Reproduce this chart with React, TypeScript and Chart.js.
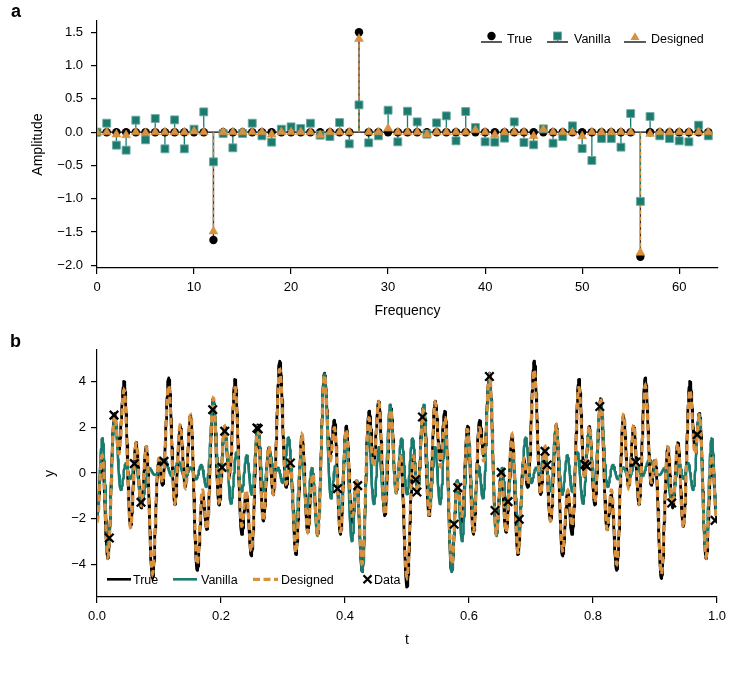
import React, { useEffect, useRef } from 'react';
import { Chart, registerables } from 'chart.js';

Chart.register(...registerables);

const FONT_FAMILY = '"Liberation Sans", Arial, Helvetica, sans-serif';
const INK = '#000000';
const TEAL = '#1b7b6f';
const TEAL_EDGE = 'rgba(110,170,160,0.9)';
const ORANGE = '#d8913f';

// ---- spectra (frequency bins 0..63) ----
const frequencies = Array.from({ length: 64 }, (_, k) => k);

const trueSpectrum = [
  0, 0, 0, 0, 0, 0, 0, 0, 0, 0,
  0, 0, -1.62, 0, 0, 0, 0, 0, 0, 0,
  0, 0, 0, 0, 0, 0, 0, 1.5, 0, 0,
  0, 0, 0, 0, 0, 0, 0, 0, 0, 0,
  0, 0, 0, 0, 0, 0, 0, 0, 0, 0,
  0, 0, 0, 0, 0, 0, -1.87, 0, 0, 0,
  0, 0, 0, 0,
];

const vanillaSpectrum = [
  0, 0.135, -0.195, -0.27, 0.18, -0.115, 0.205, -0.25, 0.185, -0.25,
  0.045, 0.305, -0.445, -0.02, -0.235, -0.02, 0.135, -0.055, -0.15, 0.045,
  0.08, 0.055, 0.135, -0.045, -0.065, 0.145, -0.175, 0.41, -0.16, -0.055,
  0.33, -0.145, 0.315, 0.155, -0.03, 0.14, 0.245, -0.13, 0.31, 0.07,
  -0.145, -0.15, -0.09, 0.155, -0.155, -0.19, 0.05, -0.165, -0.065, 0.095,
  -0.245, -0.425, -0.095, -0.095, -0.225, 0.28, -1.04, 0.235, -0.055, -0.095,
  -0.13, -0.145, 0.105, -0.055,
];

const designedSpectrum = [
  0, 0, -0.035, -0.045, 0, -0.01, 0, 0, 0, 0,
  0.01, 0, -1.49, 0, 0, 0, 0, 0, -0.035, 0,
  0, 0, 0, -0.045, 0, 0, 0, 1.4, 0, 0,
  0.055, 0, 0, 0, -0.035, 0, 0, 0, 0, 0.03,
  0, -0.04, 0, 0, 0, -0.06, 0.04, 0, 0, 0,
  -0.06, 0, 0, 0, 0, 0, -1.81, -0.025, 0, 0,
  0, 0, 0, 0,
];

const amplitudeTicks = [-2, -1.5, -1, -0.5, 0, 0.5, 1, 1.5];
const frequencyTicks = [0, 10, 20, 30, 40, 50, 60];

// ---- time-domain samples ----
const sampleT = [
  0.0199, 0.0274, 0.0602, 0.071, 0.108, 0.1866, 0.2016, 0.206, 0.258, 0.26,
  0.312, 0.388, 0.4205, 0.514, 0.516, 0.525, 0.576, 0.582, 0.633, 0.642,
  0.652, 0.663, 0.681, 0.7226, 0.7258, 0.787, 0.79, 0.811, 0.869, 0.927,
  0.968, 0.997,
];
const sampleY = [
  -2.84, 2.53, 0.41, -1.28, 0.51, 2.77, 0.25, 1.83, 1.97, 1.93,
  0.44, -0.68, -0.55, -0.29, -0.83, 2.45, -2.24, -0.64, 4.22, -1.64,
  0.03, -1.25, -2.02, 0.95, 0.35, 0.38, 0.3, 2.91, 0.48, -1.31,
  1.68, -2.07,
];

const timeTicks = [0, 0.2, 0.4, 0.6, 0.8, 1.0];
const signalTicks = [-4, -2, 0, 2, 4];

// Each time-domain curve is the cosine series of its spectrum above.
const CURVE_STEPS = 2000;
const curveT = Array.from({ length: CURVE_STEPS + 1 }, (_, i) => i / CURVE_STEPS);
function cosineSeries(spectrum: number[]) {
  return curveT.map((t) => ({
    x: t,
    y: spectrum.reduce((s, a, k) => s + a * Math.cos(2 * Math.PI * frequencies[k] * t), 0),
  }));
}

function stemSegments(spectrum: number[]) {
  const pts: { x: number; y: number | null }[] = [];
  spectrum.forEach((v, k) => {
    if (v === 0) return;
    pts.push({ x: frequencies[k], y: 0 }, { x: frequencies[k], y: v }, { x: frequencies[k], y: null });
  });
  return pts;
}

const minus = (s: string) => s.replace('-', '\u2212');

// ---- small canvas drawing helpers for legend handles ----
function hLine(ctx: CanvasRenderingContext2D, x0: number, x1: number, y: number, color: string, width: number, dash: number[] = []) {
  ctx.save();
  ctx.strokeStyle = color;
  ctx.lineWidth = width;
  ctx.setLineDash(dash);
  ctx.beginPath();
  ctx.moveTo(x0, y);
  ctx.lineTo(x1, y);
  ctx.stroke();
  ctx.restore();
}
function vLine(ctx: CanvasRenderingContext2D, x: number, y0: number, y1: number, color: string, width: number) {
  ctx.save();
  ctx.strokeStyle = color;
  ctx.lineWidth = width;
  ctx.beginPath();
  ctx.moveTo(x, y0);
  ctx.lineTo(x, y1);
  ctx.stroke();
  ctx.restore();
}
function circleMark(ctx: CanvasRenderingContext2D, x: number, y: number, r: number, color: string) {
  ctx.save();
  ctx.fillStyle = color;
  ctx.beginPath();
  ctx.arc(x, y, r, 0, Math.PI * 2);
  ctx.fill();
  ctx.restore();
}
function squareMark(ctx: CanvasRenderingContext2D, x: number, y: number, side: number) {
  ctx.save();
  ctx.fillStyle = TEAL;
  ctx.strokeStyle = TEAL_EDGE;
  ctx.lineWidth = 1;
  ctx.fillRect(x - side / 2, y - side / 2, side, side);
  ctx.strokeRect(x - side / 2, y - side / 2, side, side);
  ctx.restore();
}
function triangleMark(ctx: CanvasRenderingContext2D, x: number, y: number, r: number) {
  ctx.save();
  ctx.fillStyle = ORANGE;
  ctx.beginPath();
  ctx.moveTo(x, y - r);
  ctx.lineTo(x + r * Math.sin((2 * Math.PI) / 3), y + r / 2);
  ctx.lineTo(x - r * Math.sin((2 * Math.PI) / 3), y + r / 2);
  ctx.closePath();
  ctx.fill();
  ctx.restore();
}
function crossMark(ctx: CanvasRenderingContext2D, x: number, y: number, h: number) {
  ctx.save();
  ctx.strokeStyle = INK;
  ctx.lineWidth = 2.3;
  ctx.beginPath();
  ctx.moveTo(x - h, y - h);
  ctx.lineTo(x + h, y + h);
  ctx.moveTo(x - h, y + h);
  ctx.lineTo(x + h, y - h);
  ctx.stroke();
  ctx.restore();
}

type LegendEntry = { label: string; textX: number; handle: (ctx: CanvasRenderingContext2D) => void };

function inlineLegend(id: string, entries: LegendEntry[], textBaseline: number) {
  return {
    id,
    afterDraw(chart: Chart) {
      const ctx = chart.ctx;
      ctx.save();
      entries.forEach((e) => {
        e.handle(ctx);
        ctx.fillStyle = INK;
        ctx.font = `12.5px ${FONT_FAMILY}`;
        ctx.textAlign = 'left';
        ctx.textBaseline = 'alphabetic';
        ctx.fillText(e.label, e.textX, textBaseline);
      });
      ctx.restore();
    },
  };
}

const tickFont = { family: FONT_FAMILY, size: 13 };
const titleFont = { family: FONT_FAMILY, size: 14 };

function axisCommon(ticksList: number[], fmt: (v: number) => string, pad: number) {
  return {
    type: 'linear' as const,
    afterBuildTicks: (scale: any) => {
      scale.ticks = ticksList.map((value) => ({ value }));
    },
    ticks: {
      font: tickFont,
      color: INK,
      padding: pad,
      maxRotation: 0,
      autoSkip: false,
      callback: (v: any) => fmt(Number(v)),
    },
    grid: { drawOnChartArea: false, drawTicks: true, tickLength: 6, color: INK, lineWidth: 1.2 },
    border: { display: true, color: INK, width: 1.2 },
  };
}

function SpectrumPanel() {
  const ref = useRef<HTMLCanvasElement | null>(null);
  useEffect(() => {
    if (!ref.current) return;
    const pts = (spec: number[]) => spec.map((v, k) => ({ x: frequencies[k], y: v }));
    const legendY = 42;
    const chart = new Chart(ref.current, {
      type: 'scatter',
      data: {
        datasets: [
          {
            label: 'Designed',
            data: pts(designedSpectrum),
            pointStyle: 'triangle',
            pointRadius: 5.2,
            backgroundColor: ORANGE,
            borderColor: ORANGE,
            borderWidth: 0.5,
            showLine: false,
            clip: 0,
            order: 0,
          },
          {
            label: 'Vanilla',
            data: pts(vanillaSpectrum),
            pointStyle: 'rect',
            pointRadius: 5.6,
            backgroundColor: TEAL,
            borderColor: TEAL_EDGE,
            borderWidth: 1,
            showLine: false,
            clip: 0,
            order: 1,
          },
          {
            label: 'True',
            data: pts(trueSpectrum),
            pointStyle: 'circle',
            pointRadius: 4.2,
            backgroundColor: INK,
            borderColor: INK,
            borderWidth: 0,
            showLine: false,
            clip: 0,
            order: 2,
          },
          {
            label: 'Designed stems',
            data: stemSegments(designedSpectrum),
            showLine: true,
            pointRadius: 0,
            borderColor: ORANGE,
            borderWidth: 1.4,
            borderDash: [4, 2.5],
            spanGaps: false,
            clip: 0,
            order: 3,
          },
          {
            label: 'Vanilla stems',
            data: stemSegments(vanillaSpectrum),
            showLine: true,
            pointRadius: 0,
            borderColor: TEAL,
            borderWidth: 1.3,
            spanGaps: false,
            clip: 0,
            order: 4,
          },
          {
            label: 'True stems',
            data: stemSegments(trueSpectrum),
            showLine: true,
            pointRadius: 0,
            borderColor: '#333333',
            borderWidth: 1.4,
            spanGaps: false,
            clip: 0,
            order: 5,
          },
          {
            label: 'Baseline',
            data: [
              { x: frequencies[0], y: 0 },
              { x: frequencies[frequencies.length - 1], y: 0 },
            ],
            showLine: true,
            pointRadius: 0,
            borderColor: INK,
            borderWidth: 1.3,
            clip: 0,
            order: 6,
          },
        ],
      },
      options: {
        animation: false,
        responsive: false,
        devicePixelRatio: 1,
        events: [],
        layout: { padding: { left: 0, top: 21, right: 14, bottom: 0 } },
        plugins: { legend: { display: false }, tooltip: { enabled: false } },
        scales: {
          x: {
            ...axisCommon(frequencyTicks, (v) => String(v), 6),
            min: 0,
            max: 64,
            title: { display: true, text: 'Frequency', font: titleFont, color: INK, padding: { top: 0, bottom: 10.5 } },
            afterFit: (s: any) => {
              s.height = 62;
            },
          },
          y: {
            ...axisCommon(amplitudeTicks, (v) => minus(v.toFixed(1)), 8),
            min: -2.04,
            max: 1.67,
            title: { display: true, text: 'Amplitude', font: titleFont, color: INK, padding: { top: 29.6, bottom: 0 } },
            afterFit: (s: any) => {
              s.width = 97;
            },
          },
        },
      },
      plugins: [
        inlineLegend(
          'spectrumLegend',
          [
            {
              label: 'True',
              textX: 507,
              handle: (ctx) => {
                hLine(ctx, 481, 502, legendY, INK, 1.3);
                circleMark(ctx, 491.5, 36, 4.2, INK);
              },
            },
            {
              label: 'Vanilla',
              textX: 574,
              handle: (ctx) => {
                hLine(ctx, 547, 568, legendY, INK, 1.3);
                vLine(ctx, 557.5, legendY, 36, TEAL, 1.3);
                squareMark(ctx, 557.5, 36, 8);
              },
            },
            {
              label: 'Designed',
              textX: 651,
              handle: (ctx) => {
                hLine(ctx, 624, 646, legendY, INK, 1.3);
                triangleMark(ctx, 635, 37.5, 5.2);
              },
            },
          ],
          42.7
        ),
      ],
    } as any);
    return () => chart.destroy();
  }, []);
  return <canvas ref={ref} width={732} height={330} style={{ position: 'absolute', left: 0, top: 0, display: 'block' }} />;
}

function SignalPanel() {
  const ref = useRef<HTMLCanvasElement | null>(null);
  useEffect(() => {
    if (!ref.current) return;
    const legendLineY = 249.3;
    const chart = new Chart(ref.current, {
      type: 'scatter',
      data: {
        datasets: [
          {
            label: 'Data',
            data: sampleT.map((t, i) => ({ x: t, y: sampleY[i] })),
            pointStyle: 'crossRot',
            pointRadius: 6,
            borderColor: INK,
            borderWidth: 2.3,
            showLine: false,
            clip: 0,
            order: 0,
          },
          {
            label: 'Designed',
            data: cosineSeries(designedSpectrum),
            showLine: true,
            pointRadius: 0,
            borderColor: ORANGE,
            borderWidth: 3.2,
            borderDash: [7, 3.5],
            borderCapStyle: 'butt',
            tension: 0,
            clip: 0,
            order: 1,
          },
          {
            label: 'Vanilla',
            data: cosineSeries(vanillaSpectrum),
            showLine: true,
            pointRadius: 0,
            borderColor: TEAL,
            borderWidth: 2.6,
            borderJoinStyle: 'round',
            tension: 0,
            clip: 0,
            order: 2,
          },
          {
            label: 'True',
            data: cosineSeries(trueSpectrum),
            showLine: true,
            pointRadius: 0,
            borderColor: INK,
            borderWidth: 2.8,
            borderJoinStyle: 'round',
            tension: 0,
            clip: 0,
            order: 3,
          },
        ],
      },
      options: {
        animation: false,
        responsive: false,
        devicePixelRatio: 1,
        events: [],
        layout: { padding: { left: 0, top: 20, right: 15, bottom: 0 } },
        plugins: { legend: { display: false }, tooltip: { enabled: false } },
        scales: {
          x: {
            ...axisCommon(timeTicks, (v) => v.toFixed(1), 6),
            min: 0,
            max: 1,
            title: { display: true, text: 't', font: titleFont, color: INK, padding: { top: 0, bottom: 11.6 } },
            afterFit: (s: any) => {
              s.height = 63;
            },
          },
          y: {
            ...axisCommon(signalTicks, (v) => minus(String(v)), 5),
            min: -5.42,
            max: 5.38,
            title: { display: true, text: 'y', font: titleFont, color: INK, padding: { top: 41.6, bottom: 0 } },
            afterFit: (s: any) => {
              s.width = 97;
            },
          },
        },
      },
      plugins: [
        inlineLegend(
          'signalLegend',
          [
            { label: 'True', textX: 133, handle: (ctx) => hLine(ctx, 107, 131, legendLineY, INK, 2.6) },
            { label: 'Vanilla', textX: 201, handle: (ctx) => hLine(ctx, 173, 197, legendLineY, TEAL, 2.6) },
            { label: 'Designed', textX: 281, handle: (ctx) => hLine(ctx, 253, 278, legendLineY, ORANGE, 3.2, [7, 3.5]) },
            { label: 'Data', textX: 374, handle: (ctx) => crossMark(ctx, 367.5, legendLineY, 4) },
          ],
          254.3
        ),
      ],
    } as any);
    return () => chart.destroy();
  }, []);
  return <canvas ref={ref} width={732} height={330} style={{ position: 'absolute', left: 0, top: 330, display: 'block' }} />;
}

const letterStyle: React.CSSProperties = {
  position: 'absolute',
  fontFamily: FONT_FAMILY,
  fontWeight: 'bold',
  fontSize: 18,
  lineHeight: '18px',
  color: INK,
};

export default function App() {
  return (
    <div style={{ position: 'absolute', left: 0, top: 0, width: 732, height: 686, background: '#fff' }}>
      <SpectrumPanel />
      <SignalPanel />
      <div style={{ ...letterStyle, left: 11, top: 2 }}>a</div>
      <div style={{ ...letterStyle, left: 10, top: 332 }}>b</div>
    </div>
  );
}
